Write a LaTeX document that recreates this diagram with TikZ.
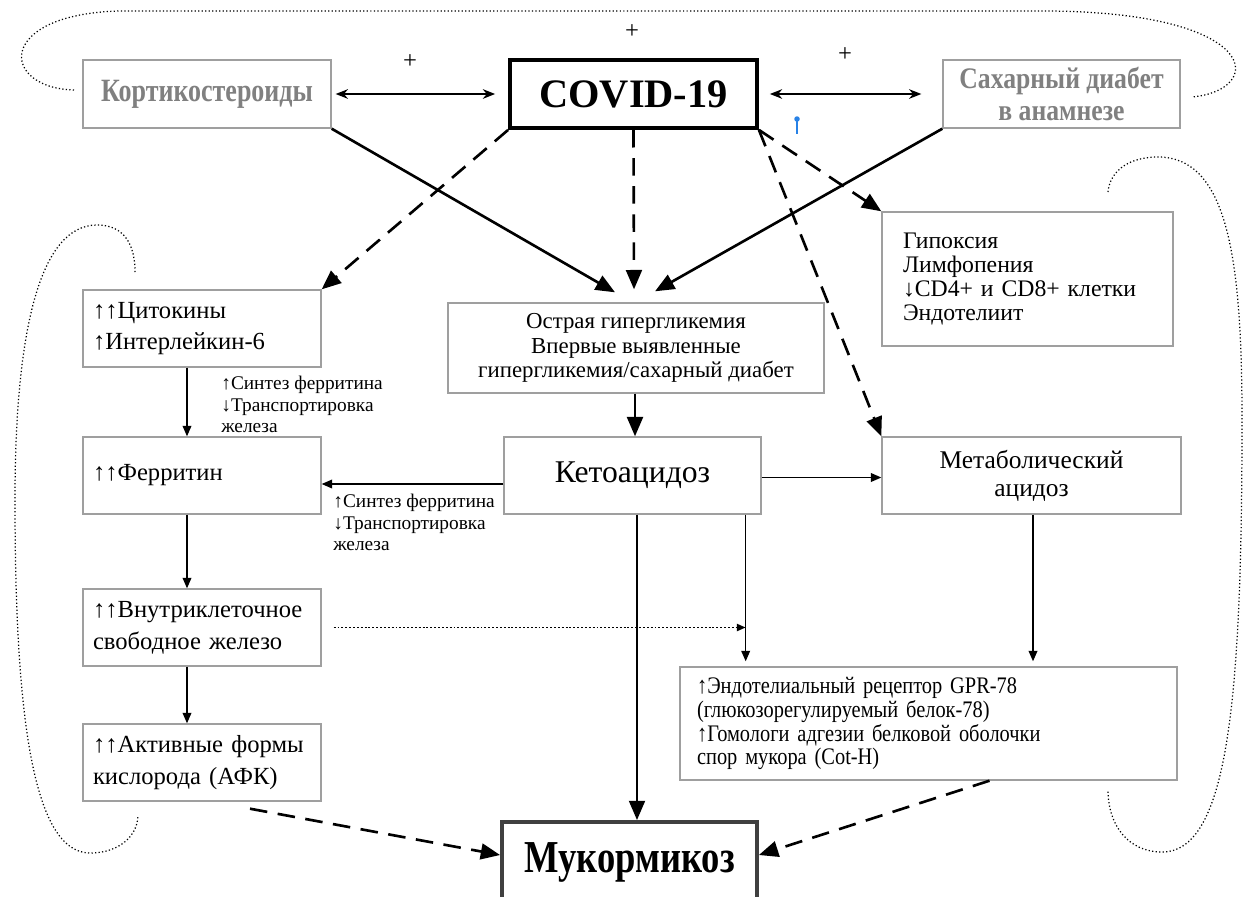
\documentclass[tikz,border=0pt]{standalone}
\usepackage{fontspec}
\setmainfont{Liberation Serif}
\newfontfamily\condfont[FakeStretch=0.8]{Liberation Serif}
\newfontfamily\narrowfont[FakeStretch=0.86]{Liberation Serif}
\usetikzlibrary{arrows.meta}
\definecolor{pinblue}{RGB}{40,130,230}

\begin{document}
\begin{tikzpicture}[x=0.02cm, y=-0.02cm,
  box/.style={draw=gray!75, line width=0.8pt, inner xsep=0.2cm, inner ysep=0pt,
    font=\fontsize{14}{18}\selectfont},
  leftbox/.style={box, align=left, text width=#1},
  graytext/.style={text=gray, font=\condfont\bfseries\fontsize{18.5}{16.5}\selectfont},
  bigarrow/.style={line width=1.5pt, -{Triangle[length=11pt,width=9pt]}},
  dasharrow/.style={bigarrow, dash pattern=on 10pt off 6pt},
  thinarrow/.style={line width=0.8pt, -{Triangle[length=6pt,width=5pt]}},
  dotarrow/.style={line width=1.1pt, dash pattern=on 1.1pt off 1.1pt,
    -{Triangle[length=5pt,width=4pt]}},
  duoarrow/.style={line width=0.8pt,
    {Stealth[length=7pt,width=5.5pt]}-{Stealth[length=7pt,width=5.5pt]}},
  dotloop/.style={line width=0.7pt, dash pattern=on 0.7pt off 1.3pt},
  smalltext/.style={anchor=north west, align=left, inner sep=0pt,
    font=\fontsize{11}{12.3}\selectfont}]

\fill[white] (0,0) rectangle (1250,896);
\useasboundingbox (0,0) rectangle (1250,896);

% Top row
\node[box, graytext, minimum width=4.96cm, minimum height=1.36cm]
  (cort) at (207,94) {Кортикостероиды};
\node[draw, line width=2.2pt, minimum width=4.94cm, minimum height=1.36cm,
  font=\fontsize{23}{23}\selectfont\bfseries]
  (covid) at (633.5,94) {COVID-19};
\node[box, graytext, align=center, minimum width=4.74cm, minimum height=1.36cm,
  font=\narrowfont\bfseries\fontsize{17}{18}\selectfont]
  (diab) at (1061.5,94) {Сахарный диабет\\в анамнезе};

% Plus signs
\node[font=\fontsize{14}{14}\selectfont] (plusL) at (410,62) {+};
\node[font=\fontsize{14}{14}\selectfont] (plusC) at (632,32) {+};
\node[font=\fontsize{14}{14}\selectfont] (plusR) at (845,55) {+};

% Marker
\draw[pinblue, line width=1pt] (797,119) -- (797,134);
\fill[pinblue] (797,119) circle[radius=0.055cm];

% Left column
\node[leftbox=4.36cm, minimum height=1.54cm]
  (cyto) at (202,328.5) {↑↑Цитокины\\↑Интерлейкин-6};
\node[leftbox=4.36cm, minimum height=1.54cm]
  (ferr) at (202,475.5) {↑↑Ферритин};
\node[leftbox=4.36cm, minimum height=1.54cm]
  (iron) at (202,627.5) {↑↑Внутриклеточное\\свободное железо};
\node[leftbox=4.36cm, minimum height=1.54cm]
  (ros) at (202,762.5) {↑↑Активные формы\\кислорода (АФК)};

% Middle column
\node[box, align=center, minimum width=7.52cm, minimum height=1.8cm,
  font=\fontsize{13}{14}\selectfont]
  (hyper) at (636,348) {Острая гипергликемия\\Впервые выявленные\\гипергликемия/сахарный диабет};
\node[box, minimum width=5.14cm, minimum height=1.54cm,
  font=\fontsize{18}{18}\selectfont]
  (keto) at (632.5,475.5) {Кетоацидоз};
\node[draw=black!75, line width=2.2pt, minimum width=5.1cm, minimum height=1.6cm,
  font=\condfont\bfseries\fontsize{26}{26}\selectfont]
  (muc) at (629.5,862) {Мукормикоз};

% Right column
\node[leftbox=4.98cm, inner xsep=0.42cm, minimum height=2.68cm,
  font=\fontsize{13.5}{13.6}\selectfont]
  (hypox) at (1027.5,279) {Гипоксия\\Лимфопения\\↓CD4+ и CD8+ клетки\\Эндотелиит};
\node[box, align=center, minimum width=5.98cm, minimum height=1.54cm,
  font=\fontsize{14.5}{16}\selectfont]
  (metab) at (1031.5,475.5) {Метаболический\\ацидоз};
\node[leftbox=9.26cm, inner xsep=0.34cm, minimum height=2.26cm,
  font=\narrowfont\fontsize{13.5}{13.6}\selectfont]
  (grp) at (928.5,723.5) {↑Эндотелиальный рецептор GPR-78\\(глюкозорегулируемый белок-78)\\↑Гомологи адгезии белковой оболочки\\спор мукора (Cot-H)};

% Arrow labels
\node[smalltext] (lab1) at (221,376) {↑Синтез ферритина\\↓Транспортировка\\железа};
\node[smalltext] (lab2) at (333,494) {↑Синтез ферритина\\↓Транспортировка\\железа};

% Top arrows
\draw[duoarrow, shorten <=0.08cm, shorten >=0.26cm] (cort.east) -- (covid.west);
\draw[duoarrow, shorten <=0.22cm, shorten >=0.42cm] (covid.east) -- (diab.west);
\draw[bigarrow] (cort.south east) -- ([xshift=-0.42cm,yshift=0.2cm]hyper.north);
\draw[dasharrow] (covid.south) -- ([xshift=-0.04cm,yshift=0.26cm]hyper.north);
\draw[bigarrow] (diab.south west) -- ([xshift=0.38cm,yshift=0.22cm]hyper.north);
\draw[dasharrow] (covid.south west) -- (cyto.north east);
\draw[dasharrow] (covid.south east) -- (hypox.north west);
\draw[dasharrow] (covid.south east) -- (metab.north west);

% Middle arrows
\coordinate (hyperM) at ([xshift=-0.02cm]hyper.south);
\draw[bigarrow] (hyperM) -- (hyperM |- keto.north);
\coordinate (ketoM) at ([xshift=0.09cm]keto.south);
\draw[bigarrow] (ketoM) -- (ketoM |- muc.north);
\draw[thinarrow] ([yshift=-0.17cm]keto.west) -- ([yshift=-0.17cm]ferr.east);
\draw[thinarrow] ([yshift=-0.04cm]keto.east) -- ([yshift=-0.04cm]metab.west);
\coordinate (ketoR) at ([xshift=-0.32cm]keto.south east);
\draw[thinarrow, shorten >=0.1cm] (ketoR) -- (ketoR |- grp.north);
\coordinate (metabM) at ([xshift=0.03cm]metab.south);
\draw[thinarrow, shorten >=0.1cm] (metabM) -- (metabM |- grp.north);

% Left arrows
\draw[thinarrow] ([xshift=-0.3cm]cyto.south) -- ([xshift=-0.3cm]ferr.north);
\draw[thinarrow] ([xshift=-0.3cm]ferr.south) -- ([xshift=-0.3cm]iron.north);
\draw[thinarrow] ([xshift=-0.3cm]iron.south) -- ([xshift=-0.3cm]ros.north);
\draw[dotarrow, shorten <=0.24cm] (iron.east) -- (iron.east -| ketoR);

% Arrows to Mucormycosis
\draw[dasharrow] ([xshift=0.96cm,yshift=-0.14cm]ros.south) -- ([yshift=0.14cm]muc.west);
\draw[dasharrow] ([xshift=1.22cm]grp.south) -- ([yshift=0.14cm]muc.east);

% Dotted loops
\draw[dotloop] (74,90) .. controls (0,88) and (-5,14) .. (120,11)
  -- (1050,11) .. controls (1262,13) and (1266,90) .. (1192,97);
\draw[dotloop] (135,272) .. controls (135,237) and (118,225) .. (97,225)
  .. controls (40,225) and (15,330) .. (15,500)
  .. controls (15,700) and (30,853) .. (90,853)
  .. controls (120,853) and (138,835) .. (138,815);
\draw[dotloop] (1108,192) .. controls (1110,170) and (1130,157) .. (1158,157)
  .. controls (1228,157) and (1242,260) .. (1242,420)
  .. controls (1242,700) and (1228,852) .. (1162,852)
  .. controls (1128,852) and (1108,825) .. (1108,790);
\end{tikzpicture}
\end{document}
